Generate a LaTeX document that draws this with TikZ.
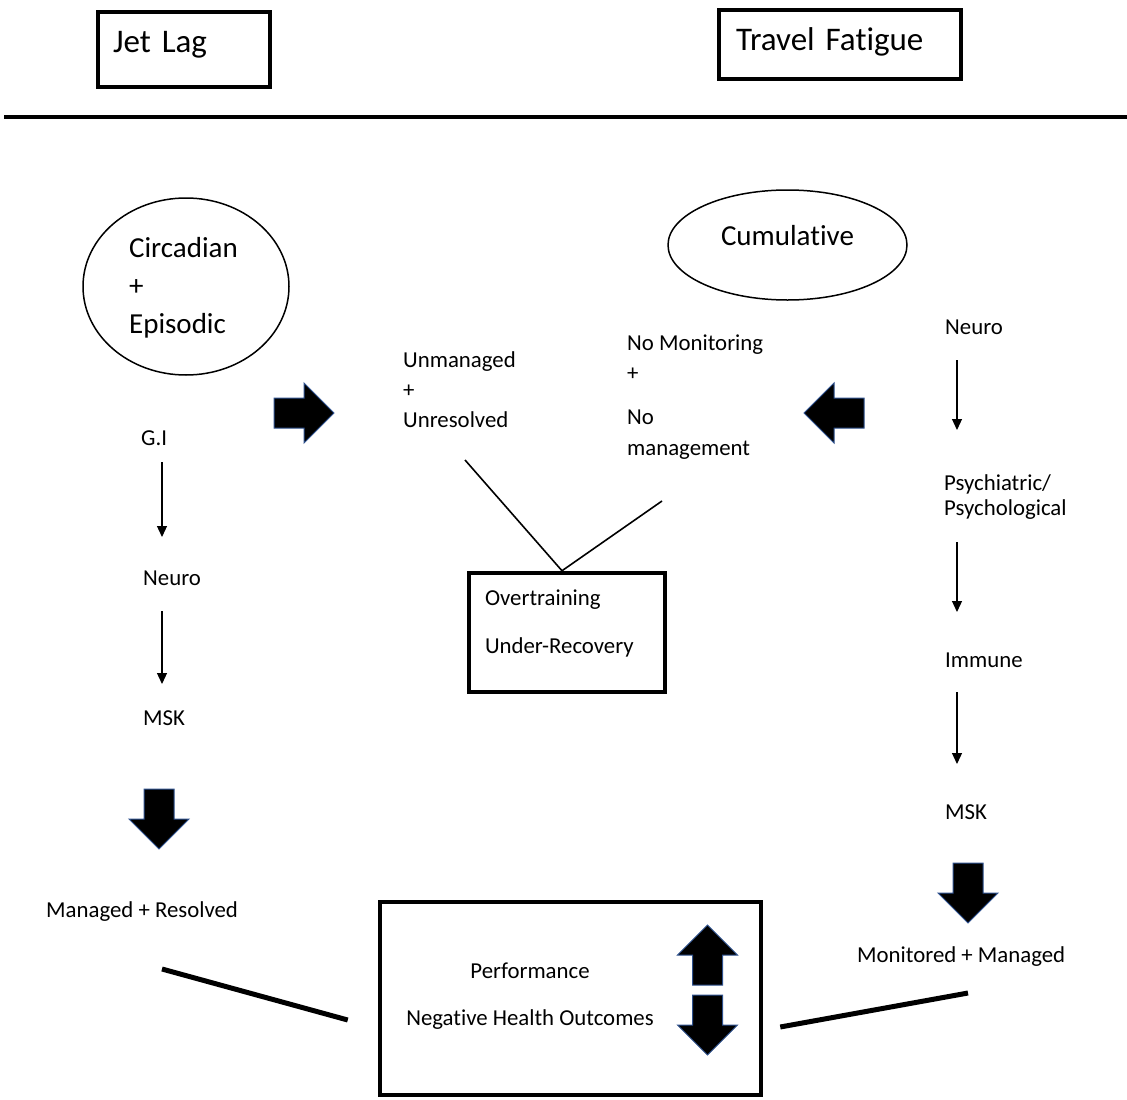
\documentclass[tikz,border=0pt]{standalone}
\usepackage{fontspec}
\setmainfont{Carlito}[Ligatures=NoCommon]
\usetikzlibrary{arrows.meta,calc,shapes.geometric}
\definecolor{arrowedge}{HTML}{2F528F}
% strut of given height (#1) and depth (#2)
\newcommand\tstrut[2]{\rule[-#2]{0pt}{\dimexpr#1+#2\relax}}
\newcommand\smallfs{\fontsize{22.8pt}{30.5pt}\selectfont}
\begin{document}
\begin{tikzpicture}[x=1pt,y=-1pt,
  txt/.style={inner sep=0pt, font=\smallfs},
  titlebox/.style={draw, line width=4.5pt, inner ysep=0pt, align=left,
    font=\fontsize{33pt}{40pt}\selectfont},
  frame/.style={draw, line width=4.5pt, inner ysep=0pt},
  oval/.style={draw, ellipse, line width=1.5pt, inner sep=0pt},
  flow/.style={line width=1.2pt, -{Triangle[width=10pt,length=11pt]}},
  link/.style={line width=1.6pt},
  heavylink/.style={line width=5pt},
  blockarrow/.pic={\filldraw[fill=black, draw=arrowedge, line width=1pt, line join=miter]
    (0,0) -- (-30,-30) -- (-15,-30) -- (-15,-60) -- (15,-60) -- (15,-30) -- (30,-30) -- cycle;}
]
\path[fill=white] (0,0) rectangle (1127,1100);
\useasboundingbox (0,0) rectangle (1127,1100);

% headings and separator
\node[titlebox, minimum width=172pt, minimum height=75pt, inner xsep=15pt, text width=142pt]
  (jetlag) at (184,49.5) {\tstrut{26pt}{21pt}Jet Lag};
\node[titlebox, minimum width=242pt, minimum height=69pt, inner xsep=17pt, text width=208pt]
  (fatigue) at (840,44.5) {\tstrut{26pt}{14pt}Travel Fatigue};
\draw[line width=3.5pt] (4,117) -- (1127,117);

% jet lag column
\node[oval, minimum width=206pt, minimum height=177pt, align=left,
  font=\fontsize{29pt}{38pt}\selectfont]
  (circ) at (186,286.5) {\tstrut{25pt}{0pt}\hspace*{-5pt}Circadian\\\hspace*{-5pt}+\\\hspace*{-5pt}Episodic\tstrut{0pt}{8pt}};
\node[txt, anchor=base west] (gi) at (141,445) {G.I};
\node[txt, anchor=base west] (neuroL) at (143,585) {Neuro};
\node[txt, anchor=base west] (mskL) at (143,725) {MSK};
\draw[flow] ($(gi.base west)+(21,17)$) -- ($(neuroL.base west)+(19,-48)$);
\draw[flow] ($(neuroL.base west)+(19,26)$) -- ($(mskL.base west)+(19,-41)$);
\pic at (159,849) {blockarrow};
\node[txt, anchor=base west] (managed) at (46,917) {Managed + Resolved};

% middle: both paths lead to overtraining
\pic[rotate=90] at (334,413) {blockarrow};
\pic[rotate=-90] at (804,413) {blockarrow};
\node[txt, anchor=north west, align=left, font=\fontsize{22.8pt}{30pt}\selectfont]
  (unman) at (403,347) {\tstrut{20pt}{0pt}Unmanaged\\+\\Unresolved};
\node[txt, anchor=north west, align=left, font=\fontsize{22.8pt}{30.5pt}\selectfont]
  (nomon) at (627,330) {\tstrut{20pt}{0pt}No Monitoring\\+\\[13.5pt]No\\management};
\node[frame, minimum width=196pt, minimum height=119pt, inner xsep=16pt, text width=164pt,
  align=left, font=\fontsize{22.8pt}{48pt}\selectfont]
  (otbox) at (567,632.5) {\tstrut{16pt}{0pt}Overtraining\\Under-Recovery\tstrut{0pt}{23pt}};
\draw[link] ($(unman.north west)+(62,113)$) -- ($(otbox.north)+(-5,0)$);
\draw[link] ($(nomon.north west)+(35,171)$) -- ($(otbox.north)+(-5,0)$);

% travel fatigue column
\node[oval, minimum width=239pt, minimum height=110pt, font=\fontsize{29pt}{38pt}\selectfont]
  (cumul) at (787.5,245) {\tstrut{22pt}{22pt}Cumulative};
\node[txt, anchor=base west] (neuroR) at (945,334) {Neuro};
\node[txt, anchor=north west, align=left, font=\fontsize{22.8pt}{25pt}\selectfont]
  (psych) at (944,470) {\tstrut{20pt}{0pt}Psychiatric/\\Psychological};
\node[txt, anchor=base west] (immune) at (945,667) {Immune};
\node[txt, anchor=base west] (mskR) at (945,819) {MSK};
\draw[flow] ($(neuroR.base west)+(12,26)$) -- ($(psych.north west)+(13,-40)$);
\draw[flow] ($(psych.north west)+(13,72)$) -- ($(immune.base west)+(12,-55)$);
\draw[flow] ($(immune.base west)+(12,25)$) -- ($(mskR.base west)+(12,-55)$);
\pic at (968,923) {blockarrow};
\node[txt, anchor=base west] (monitored) at (857,962) {Monitored + Managed};

% outcomes
\node[frame, minimum width=381pt, minimum height=193pt] (outbox) at (570.5,998.5) {};
\node[txt, anchor=north, align=center, font=\fontsize{22.8pt}{47pt}\selectfont]
  (outcomes) at (530,958) {\tstrut{20pt}{0pt}Performance\\Negative Health Outcomes};
\pic[rotate=180] at (707.5,925) {blockarrow};
\pic at (707.5,1055) {blockarrow};
\draw[heavylink] ($(managed.base west)+(116,52)$) -- ($(outbox.west)+(-30,21.5)$);
\draw[heavylink] ($(monitored.base west)+(111,31)$) -- ($(outbox.east)+(17,28.5)$);
\end{tikzpicture}
\end{document}
